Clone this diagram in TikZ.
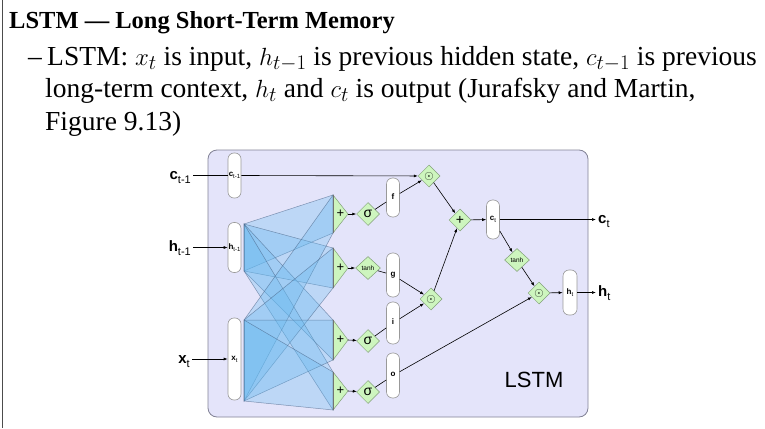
\documentclass[tikz,border=0pt]{standalone}
\usepackage{fontspec}
\setmainfont{Liberation Serif}
\newfontfamily\hv{Liberation Sans}
\usetikzlibrary{shapes.geometric,arrows.meta,calc}
\definecolor{lav}{RGB}{228,228,250}
\definecolor{lavedge}{RGB}{130,130,150}
\definecolor{gfill}{RGB}{205,245,190}
\definecolor{gedge}{RGB}{130,160,120}
\definecolor{fanblue}{RGB}{100,185,240}
\definecolor{fanedge}{RGB}{70,95,130}
\newcommand\outlbl[2]{{\hv\fontsize{15}{15}\selectfont\textbf{#1}\raisebox{-4pt}{\fontsize{11}{11}\selectfont #2}}}
\newcommand\inlbl[2]{{\hv\fontsize{8}{8}\selectfont\textbf{#1}\raisebox{-2pt}{\fontsize{6}{6}\selectfont #2}}}
\begin{document}
\begin{tikzpicture}[x=1pt,y=-1pt,
 pill/.style={draw=gray!80,fill=white,rounded corners=6pt,minimum width=13pt,inner sep=0pt,line width=0.6pt},
 gate/.style={diamond,draw=gedge,fill=gfill,inner sep=0pt,minimum width=23pt,minimum height=23pt,line width=0.5pt},
 plustri/.style={draw=gedge,fill=gfill,line width=0.5pt},
 arr/.style={-{Latex[length=4pt,width=3pt]},line width=0.6pt},
 conn/.style={line width=0.6pt},
 fan/.style={fill=fanblue,fill opacity=0.3,draw=fanedge,draw opacity=0.6,line width=0.5pt},
 olab/.style={inner sep=0pt},
 sig/.style={font=\hv\fontsize{14}{14}\selectfont},
 tnh/.style={font=\hv\fontsize{6.5}{6.5}\selectfont},
 dotf/.style={font=\fontsize{13}{13}\selectfont},
 bodytext/.style={anchor=base west,inner sep=0pt,font=\fontsize{27.5}{27.5}\selectfont},
]
\useasboundingbox (0,0) rectangle (765,428);
% slide frame and text
\draw[line width=0.8pt,black!70] (2,0) -- (2,428);
\node[anchor=base west,inner sep=0pt,font=\bfseries\fontsize{24.5}{24.5}\selectfont] (title) at (9,29) {LSTM — Long Short-Term Memory};
\node[bodytext] (dash) at (28,65) {–};
\node[bodytext] (l1) at (47,65) {LSTM: $x_t$ is input, $h_{t-1}$ is previous hidden state, $c_{t-1}$ is previous};
\node[bodytext] (l2) at (45,97) {long-term context, $h_t$ and $c_t$ is output (Jurafsky and Martin,};
\node[bodytext] (l3) at (45,130) {Figure 9.13)};
% LSTM box
\draw[fill=lav,draw=lavedge,line width=0.8pt,rounded corners=9pt] (208,150) rectangle (588,417);
\node[font=\hv\fontsize{22}{22}\selectfont] (lstm) at (534,380) {LSTM};
% fans
\coordinate (hT) at (244,224); \coordinate (hB) at (244,271);
\coordinate (xT) at (244,320); \coordinate (xB) at (244,401);
\coordinate (p1T) at (333,195); \coordinate (p1B) at (333,233);
\coordinate (p2T) at (333,248); \coordinate (p2B) at (333,288);
\coordinate (p3T) at (333,320); \coordinate (p3B) at (333,360);
\coordinate (p4T) at (333,372); \coordinate (p4B) at (333,410);
\foreach \s in {h,x}{
  \foreach \p in {p1,p2,p3,p4}{
    \path[fan] (\s T) -- (\p T) -- (\p B) -- (\s B) -- cycle;
  }
}
% plus triangles
\coordinate (p1t) at (348,214); \coordinate (p2t) at (348,268);
\coordinate (p3t) at (348,340); \coordinate (p4t) at (348,391);
\foreach \p in {p1,p2,p3,p4}{
  \path[plustri] (\p T) -- (\p t) -- (\p B) -- cycle;
  \draw[line width=1pt,black!55] (\p T) -- (\p B);
}
\foreach \p in {p1,p2,p3,p4}{
  \node[font=\hv\fontsize{13}{13}\selectfont,inner sep=0pt] at ($(\p t)+(-7.5,0)$) {+};
}
% pills
\node[pill,minimum height=45pt] (cprev) at (234.5,175.5) {\inlbl{c}{t-1}};
\node[pill,minimum height=50pt] (hprev) at (234.5,247.5) {\inlbl{h}{t-1}};
\node[pill,minimum height=82pt] (xin) at (234.5,359) {\inlbl{x}{t}};
\node[pill,minimum height=39pt] (f) at (393,197.5) {\inlbl{f}{}};
\node[pill,minimum height=44pt] (g) at (393,275) {\inlbl{g}{}};
\node[pill,minimum height=42pt] (i) at (393,323) {\inlbl{i}{}};
\node[pill,minimum height=45pt] (o) at (393,375.5) {\inlbl{o}{}};
\node[pill,minimum height=39pt] (ctp) at (493,219.5) {\inlbl{c}{t}};
\node[pill,minimum height=45pt,minimum width=14pt] (htp) at (570,292.5) {\inlbl{h}{t}};
% gates
\node[gate,sig] (s1) at (368,214) {σ};
\node[gate,tnh,minimum width=25pt,minimum height=23pt] (tn1) at (368,268) {tanh};
\node[gate,sig] (s3) at (368,341) {σ};
\node[gate,sig] (s4) at (368,392) {σ};
\node[gate,dotf,minimum width=22pt,minimum height=22pt] (o1) at (429,176) {$\odot$};
\node[gate,font=\hv\fontsize{14}{14}\selectfont,minimum width=22pt,minimum height=22pt] (add) at (460,220) {+};
\node[gate,dotf,minimum width=22pt,minimum height=22pt] (o2) at (431,299) {$\odot$};
\node[gate,tnh,minimum width=25pt,minimum height=23pt] (tn2) at (517,260) {tanh};
\node[gate,dotf,minimum width=22pt,minimum height=22pt] (o3) at (539,293) {$\odot$};
% outer labels
\node[olab,anchor=base east] (cl) at (191,179.5) {\outlbl{c}{t-1}};
\node[olab,anchor=base east] (hl) at (191,251.5) {\outlbl{h}{t-1}};
\node[olab,anchor=base east] (xl) at (190,363) {\outlbl{x}{t}};
\node[olab,anchor=base west] (ctl) at (598,223.5) {\outlbl{c}{t}};
\node[olab,anchor=base west] (htl) at (598,296.5) {\outlbl{h}{t}};
% connectors
\draw[conn] ([shift={(2pt,4pt)}]cl.base east) -- (cprev.west);
\draw[arr] (cprev.east) -- (o1);
\draw[arr] ([shift={(2pt,4pt)}]hl.base east) -- (hprev.west);
\draw[arr] ([shift={(2pt,4pt)}]xl.base east) -- (xin.west);
\draw[arr] (p1t) -- (s1);
\draw[arr] (p2t) -- (tn1);
\draw[arr] (p3t) -- (s3);
\draw[arr] (p4t) -- (s4);
\draw[conn] (s1) -- (f);
\draw[conn] (tn1) -- (g);
\draw[conn] (s3) -- (i);
\draw[conn] (s4) -- (o);
\draw[arr] (f) -- (o1);
\draw[arr] (o1) -- (add);
\draw[arr] (g) -- (o2);
\draw[arr] (i) -- (o2);
\draw[arr] (o2) -- (add);
\draw[arr] (add) -- (ctp);
\draw[arr] (ctp.east) -- ([shift={(-2pt,4pt)}]ctl.base west);
\draw[arr] (ctp) -- (tn2);
\draw[arr] (tn2) -- (o3);
\draw[arr] (o) -- (o3);
\draw[arr] (o3) -- (htp);
\draw[arr] (htp.east) -- ([shift={(-2pt,4pt)}]htl.base west);
\end{tikzpicture}
\end{document}
